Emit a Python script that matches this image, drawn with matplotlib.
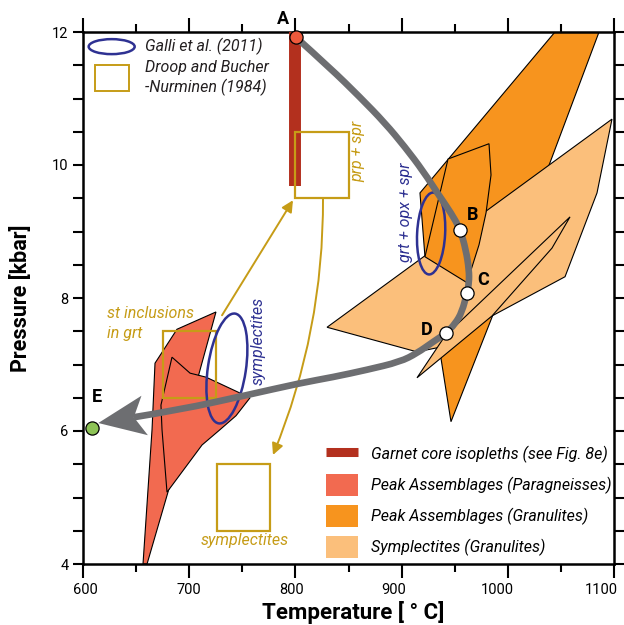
import numpy as np
import matplotlib
matplotlib.use("Agg")
import matplotlib.pyplot as plt
from matplotlib.patches import Polygon, Ellipse, Rectangle, Patch, PathPatch
from matplotlib.path import Path
from matplotlib.lines import Line2D
from matplotlib.ticker import MultipleLocator
from matplotlib.transforms import ScaledTranslation

plt.rcParams['font.family'] = ['Roboto', 'DejaVu Sans']

# colours
c_garnet = '#b3301e'
c_para = '#f26a50'
c_gran = '#f7941e'
c_sympl = '#fbbf7b'
c_path = '#6d6e71'
c_navy = '#2e3192'
c_gold = '#c69c17'

# garnet core isopleths (T, P)
garnet_T = [800, 800]
garnet_P = [12.0, 9.68]

# peak assemblages (paragneisses), two overlapping fields
para1_T = [725.2, 709.2, 680.0, 660.3, 656.5, 665.0, 667.8, 688.5]
para1_P = [7.79, 6.86, 5.08, 4.0, 4.0, 6.02, 7.02, 7.53]
para2_T = [683.8, 700.8, 715.8, 757.3, 744.1, 729.0, 712.1, 679.1, 674.4, 673.4]
para2_P = [7.11, 6.87, 6.81, 6.50, 6.23, 6.02, 5.79, 5.08, 6.02, 6.39]

# peak assemblages (granulites)
gran1_T = [1044.4, 1085.9, 985.1, 946.5, 922.0, 917.3]
gran1_P = [12.0, 12.0, 7.71, 6.14, 8.62, 9.58]
gran2_T = [943.7, 982.3, 984.2, 979.5, 972.9, 961.6, 922.0]
gran2_P = [10.09, 10.32, 9.85, 9.28, 8.80, 8.23, 8.62]

# symplectites (granulites)
sympl1_T = [829.8, 1098.1, 1084.0, 1053.9, 985.1, 936.2, 914.5]
sympl1_P = [7.56, 10.69, 9.58, 8.32, 7.73, 7.26, 7.19]
sympl2_T = [914.5, 940.9, 1058.6, 1041.6, 985.1]
sympl2_P = [6.80, 7.43, 9.22, 8.75, 7.73]

# P-T path A -> E
path_T = [800.6, 832.6, 860.8, 884.4, 903.2, 920.2, 936.2, 946.5, 955.0, 960.6, 963.5,
          963.5, 961.6, 956.9, 950.3, 941.8, 929.6, 914.5, 898.5, 867.4, 835.4,
          804.3, 754.4, 691.3]
path_P = [11.92, 11.46, 11.02, 10.63, 10.27, 9.91, 9.52, 9.28, 9.04, 8.72, 8.42,
          8.23, 8.08, 7.79, 7.61, 7.47, 7.34, 7.17, 7.04, 6.92, 6.81,
          6.72, 6.54, 6.32]
tip_T, tip_P = 614.4, 6.12

stage_names = ['A', 'B', 'C', 'D', 'E']
stage_T = [800.6, 955.0, 961.9, 941.8, 608.8]
stage_P = [11.92, 9.03, 8.07, 7.47, 6.04]
stage_colors = ['#ee5a3c', 'white', 'white', 'white', '#8dc356']
label_T = [788.3, 967.2, 976.6, 923.9, 613.2]
label_P = [12.2, 9.25, 8.27, 7.52, 6.51]

# Droop and Bucher-Nurminen (1984) boxes (lower-left T, P)
box_T = [800, 675, 726]
box_P = [9.5, 6.5, 4.5]
box_w, box_h = 50, 1.0

xticks = [600, 700, 800, 900, 1000, 1100]
xtick_labels = ['600', '700', '800', '900', '1000', '1100']

fig = plt.figure(figsize=(6.24, 6.25), dpi=100)
ax = fig.add_axes([83 / 624, 61 / 625, 531 / 624, 532 / 625])
ax.set_xlim(600, 1100)
ax.set_ylim(4, 12)

poly_kw = dict(edgecolor='black', linewidth=0.8)
ax.add_patch(Polygon(np.column_stack([gran1_T, gran1_P]), facecolor=c_gran, zorder=2, **poly_kw))
ax.add_patch(Polygon(np.column_stack([sympl1_T, sympl1_P]), facecolor=c_sympl, zorder=2.1, **poly_kw))
ax.add_patch(Polygon(np.column_stack([sympl2_T, sympl2_P]), facecolor=c_sympl, zorder=2.2, **poly_kw))
ax.add_patch(Polygon(np.column_stack([gran2_T, gran2_P]), facecolor=c_gran, zorder=2.3, **poly_kw))
ax.add_patch(Polygon(np.column_stack([para1_T, para1_P]), facecolor=c_para, zorder=2, **poly_kw))
ax.add_patch(Polygon(np.column_stack([para2_T, para2_P]), facecolor=c_para, zorder=2.1, **poly_kw))

ax.plot(garnet_T, garnet_P, color=c_garnet, lw=8.6, solid_capstyle='butt', zorder=3)

for t, p in zip(box_T, box_P):
    ax.add_patch(Rectangle((t, p), box_w, box_h, fill=False, edgecolor=c_gold, lw=1.6, zorder=4))


def px_ellipse(t, p, w, h, angle):
    tr = fig.dpi_scale_trans + ScaledTranslation(t, p, ax.transData)
    return Ellipse((0, 0), w / 100, h / 100, angle=angle, transform=tr,
                   fill=False, edgecolor=c_navy, lw=1.8, zorder=4)


ax.add_patch(px_ellipse(735.5, 6.94, 38, 111, -8.5))
ax.add_patch(px_ellipse(927.8, 8.97, 28, 82, -3))

# path with arrow head
tip = ax.transData.transform((tip_T, tip_P))
prev = ax.transData.transform((path_T[-1], path_P[-1]))
u = (tip - prev) / np.hypot(*(tip - prev))
n = np.array([-u[1], u[0]])
head_px = np.array([tip, tip - 47 * u + 20 * n, tip - 36 * u, tip - 47 * u - 20 * n])
head = ax.transData.inverted().transform(head_px)

pts = np.column_stack([path_T + [head[2, 0]], path_P + [head[2, 1]]])
verts = [pts[0]]
codes = [Path.MOVETO]
for i in range(1, len(pts) - 1):
    verts += [pts[i], (pts[i] + pts[i + 1]) / 2]
    codes += [Path.CURVE3, Path.CURVE3]
verts[-1] = pts[-1]
ax.add_patch(PathPatch(Path(verts, codes), fill=False, edgecolor=c_path, lw=4.8,
                       capstyle='butt', joinstyle='round', zorder=5))
ax.add_patch(Polygon(head, facecolor=c_path, edgecolor='none', zorder=5))

for name, t, p, c, lt, lp in zip(stage_names, stage_T, stage_P, stage_colors, label_T, label_P):
    ax.plot(t, p, 'o', ms=9.5, mfc=c, mec='black', mew=0.9, zorder=6, clip_on=False)
    ax.text(lt, lp, name, fontsize=13, fontweight='bold', ha='center', va='center', zorder=6)

# gold arrows
arrow_kw = dict(arrowstyle='-|>', color=c_gold, lw=1.4, mutation_scale=17, shrinkA=0, shrinkB=0)
ax.annotate('', xy=(797.7, 9.47), xytext=(730.9, 7.74), arrowprops=dict(**arrow_kw), zorder=4)
ax.annotate('', xy=(778.9, 5.64), xytext=(826.0, 9.50),
            arrowprops=dict(connectionstyle='arc3,rad=-0.1', **arrow_kw), zorder=4)

# annotations
fs = 11.5
ax.text(859, 10.2, 'prp + spr', color=c_gold, style='italic', fontsize=fs, rotation=90,
        ha='center', va='center')
ax.text(904, 9.29, 'grt + opx + spr', color=c_navy, style='italic', fontsize=fs, rotation=90,
        ha='center', va='center')
ax.text(765, 7.35, 'symplectites', color=c_navy, style='italic', fontsize=fs, rotation=90,
        ha='center', va='center')
ax.text(622.6, 7.77, 'st inclusions', color=c_gold, style='italic', fontsize=fs, va='center')
ax.text(622.6, 7.47, 'in grt', color=c_gold, style='italic', fontsize=fs, va='center')
ax.text(752.5, 4.36, 'symplectites', color=c_gold, style='italic', fontsize=fs,
        ha='center', va='center')

# upper-left key
ax.add_patch(px_ellipse(627, 11.78, 46, 15, 0))
ax.add_patch(Rectangle((611.3, 11.11), 32, 0.39, fill=False, edgecolor=c_gold, lw=1.4))
ax.text(658, 11.78, 'Galli et al. (2011)', style='italic', fontsize=fs, va='center', color='#231f20')
ax.text(658, 11.46, 'Droop and Bucher', style='italic', fontsize=fs, va='center', color='#231f20')
ax.text(658, 11.16, '-Nurminen (1984)', style='italic', fontsize=fs, va='center', color='#231f20')

handles = [Line2D([], [], color=c_garnet, lw=6.5, solid_capstyle='butt'),
           Patch(facecolor=c_para, edgecolor='none'),
           Patch(facecolor=c_gran, edgecolor='none'),
           Patch(facecolor=c_sympl, edgecolor='none')]
labels = ['Garnet core isopleths (see Fig. 8e)', 'Peak Assemblages (Paragneisses)',
          'Peak Assemblages (Granulites)', 'Symplectites (Granulites)']
ax.legend(handles, labels, loc='upper left', bbox_to_anchor=(0.4576, 0.2265), frameon=False,
          prop={'style': 'italic', 'size': fs}, handlelength=2.0, handleheight=1.74,
          labelspacing=0.56, handletextpad=0.81, borderpad=0, borderaxespad=0)

# axes styling
ax.set_xticks(xticks)
ax.xaxis.set_minor_locator(MultipleLocator(50))
ax.yaxis.set_major_locator(MultipleLocator(2))
ax.yaxis.set_minor_locator(MultipleLocator(0.5))
ax.tick_params(axis='both', which='both', direction='out', top=True, right=True,
               width=1.5, labelsize=10.5)
ax.tick_params(axis='x', which='major', length=10, labelbottom=False)
ax.tick_params(axis='x', which='minor', length=5.5)
ax.tick_params(axis='y', which='both', length=7)
for s in ax.spines.values():
    s.set_linewidth(1.8)

# x tick labels drawn as text: in the reference they drift slightly left of their ticks
for v, lab, dx in zip(xticks, xtick_labels, [2, 0, -4, -8, -10, -13]):
    off = ScaledTranslation(dx / 100, -26 / 100, fig.dpi_scale_trans)
    ax.text(v, 0, lab, fontsize=10.5, ha='center', va='center',
            transform=ax.get_xaxis_transform() + off, clip_on=False)

ax.text(0.5, 0, 'Temperature [ ° C]', fontsize=16, fontweight='bold', ha='center', va='center',
        transform=ax.transAxes + ScaledTranslation(5 / 100, -48 / 100, fig.dpi_scale_trans))
ax.set_ylabel('Pressure [kbar]', fontsize=15.5, fontweight='bold', labelpad=14)

fig.savefig('out.png', dpi=100)
